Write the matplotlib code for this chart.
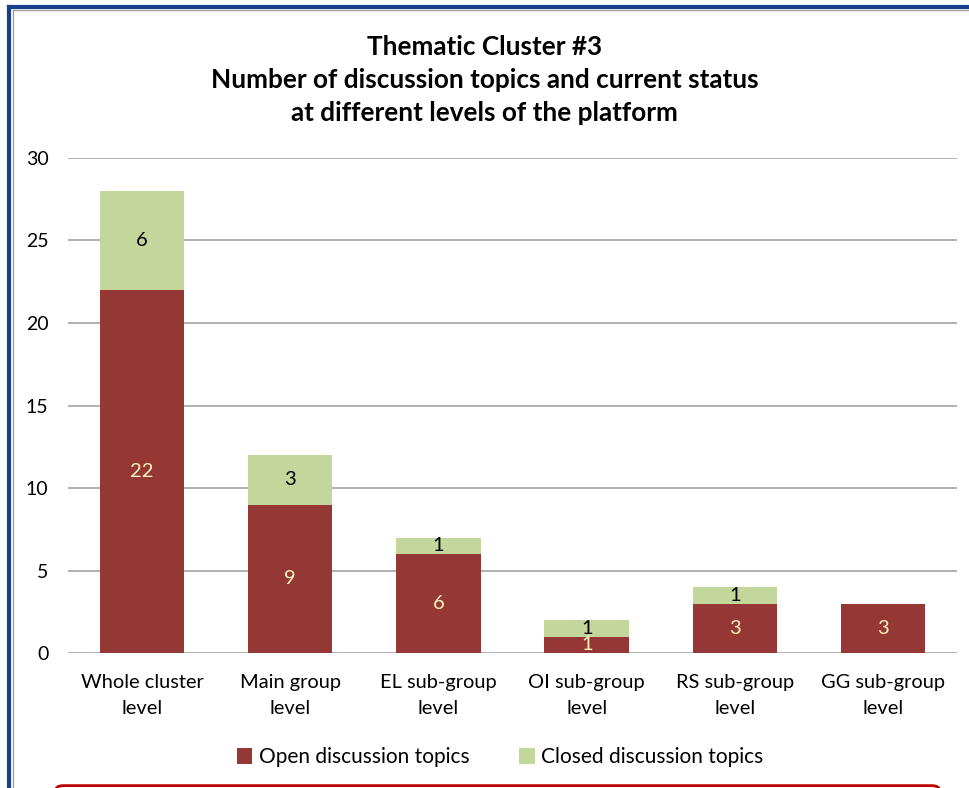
import matplotlib.pyplot as plt
from matplotlib.patches import FancyBboxPatch
from matplotlib.lines import Line2D

plt.rcParams['font.family'] = ['Lato', 'DejaVu Sans']

categories = ["Whole cluster\nlevel", "Main group\nlevel", "EL sub-group\nlevel",
              "OI sub-group\nlevel", "RS sub-group\nlevel", "GG sub-group\nlevel"]
open_topics = [22, 9, 6, 1, 3, 3]
closed_topics = [6, 3, 1, 1, 1, 0]

open_color = "#953735"
closed_color = "#C3D69B"

fig = plt.figure(figsize=(9.69, 7.88), dpi=100)
ax = fig.add_axes([0.070, 0.1713, 0.918, 0.6282])

x = range(len(categories))
b1 = ax.bar(x, open_topics, width=0.57, color=open_color, label="Open discussion topics", zorder=3)
b2 = ax.bar(x, closed_topics, width=0.57, bottom=open_topics, color=closed_color,
            label="Closed discussion topics", zorder=3)

# Value labels
for bar, v in zip(b1, open_topics):
    if v:
        ax.text(bar.get_x() + bar.get_width() / 2, bar.get_y() + v / 2, str(v),
                ha='center', va='center', color="#FFF2B8", fontsize=14.5, zorder=4)
for bar, v in zip(b2, closed_topics):
    if v:
        ax.text(bar.get_x() + bar.get_width() / 2, bar.get_y() + v / 2, str(v),
                ha='center', va='center', color="black", fontsize=14.5, zorder=4)

ax.set_xlim(-0.5, len(categories) - 0.5)
ax.set_ylim(0, 30)
ax.set_yticks(range(0, 31, 5))
ax.set_xticks(list(x))
ax.set_xticklabels(categories, fontsize=14.4, linespacing=1.62)
ax.tick_params(axis='y', labelsize=14, length=0, pad=14)
ax.tick_params(axis='x', length=0, pad=15)
ax.grid(axis='y', color='#ABABAB', linewidth=1.3, zorder=0)
for s in ax.spines.values():
    s.set_visible(False)

fig.text(0.5, 0.899, "Thematic Cluster #3\nNumber of discussion topics and current status\nat different levels of the platform",
         ha='center', va='center', fontsize=18.8, fontweight='bold', linespacing=1.45)

ax.legend(loc='center', bbox_to_anchor=(0.516, 0.039), bbox_transform=fig.transFigure, ncol=2,
          frameon=False, fontsize=15, handlelength=0.75, handleheight=0.75, handletextpad=0.3,
          columnspacing=2.4)

# Page frame decorations
fig.add_artist(Line2D([0.009, 0.009], [0, 0.991], color='#17408B', linewidth=3, transform=fig.transFigure))
fig.add_artist(Line2D([0.009, 1.0], [0.991, 0.991], color='#17408B', linewidth=3, transform=fig.transFigure))
fig.add_artist(Line2D([0.013, 0.013], [0, 0.987], color='#A0A0A0', linewidth=1, transform=fig.transFigure))
fig.add_artist(Line2D([0.013, 1.0], [0.987, 0.987], color='#A0A0A0', linewidth=1, transform=fig.transFigure))
fig.add_artist(FancyBboxPatch((0.057, -0.05), 0.913, 0.053, boxstyle="round,pad=0,rounding_size=0.008",
                              transform=fig.transFigure, facecolor='white', edgecolor='#C00000', linewidth=2))

fig.savefig("out.png", dpi=100)
